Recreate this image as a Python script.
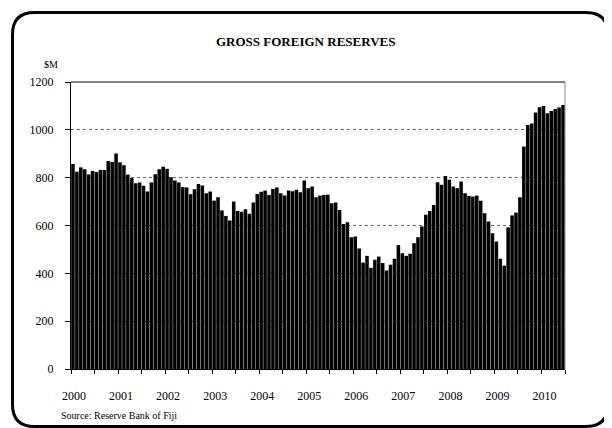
"""
Gross foreign reserves, monthly bars Jan 2000 - Jun 2010 ($M)
"""
import numpy as np, pandas as pd, plotly.graph_objects as go

# ── data ────────────────────────────────────────────────
MONTHS = pd.date_range("2000-01-01", periods=126, freq="MS")
RESERVES = [
    857, 825, 843, 835, 813, 828, 824, 832, 832, 870, 866, 901,   # 2000
    864, 852, 813, 798, 777, 780, 766, 742, 780, 814, 835, 846,   # 2001
    837, 802, 788, 780, 761, 759, 731, 752, 773, 767, 735, 742,   # 2002
    704, 718, 663, 640, 621, 700, 661, 658, 668, 649, 696, 732,   # 2003
    741, 746, 728, 753, 759, 735, 725, 746, 743, 749, 739, 788,   # 2004
    756, 763, 718, 725, 728, 729, 693, 696, 665, 606, 614, 551,   # 2005
    554, 504, 445, 473, 423, 457, 470, 443, 412, 436, 461, 518,   # 2006
    484, 473, 482, 526, 551, 596, 645, 661, 686, 781, 770, 807,   # 2007
    791, 763, 756, 784, 735, 724, 721, 725, 704, 651, 617, 568,   # 2008
    533, 461, 432, 592, 642, 654, 718, 930, 1020, 1027, 1072, 1094,  # 2009
    1100, 1069, 1079, 1087, 1093, 1104,                           # 2010
]
YEARS = [str(y) for y in range(2000, 2011)]
Y_TICKS = [0, 200, 400, 600, 800, 1000, 1200]

# ── geometry ────────────────────────────────────────────
# positions below are read off the reference picture; the page body
# adds an 8px margin, so everything is shifted back by OFF
OFF = 8
W, H = 612 - OFF, 428 - OFF
L, R, T, B = 71 - OFF, 565 - OFF, 82 - OFF, 369 - OFF
SERIF = "Liberation Serif"

def px(x):  # reference pixel x -> paper
    return (x - OFF - L) / (R - L)

def py(y):  # reference pixel y -> paper
    return (B - (y - OFF)) / (B - T)

idx = np.arange(len(RESERVES))          # month slots on a linear axis
half_years = np.arange(0, len(RESERVES) + 1, 6) - 0.5
tick_text = [YEARS[i // 2] if i % 2 == 0 else "" for i in range(len(half_years))]

fig = go.Figure(go.Bar(
    x=idx, y=RESERVES,
    customdata=MONTHS.strftime("%b %Y"),
    marker=dict(color="#000000", line=dict(width=0)),
    hovertemplate="%{customdata}: %{y}<extra></extra>",
))

fig.update_xaxes(
    range=[-0.5, len(RESERVES) - 0.5],
    tickvals=half_years, ticktext=tick_text,
    ticks="outside", ticklen=4, tickcolor="#000",
    ticklabelshift=3, ticklabelstandoff=12,
    showline=True, linecolor="#000", linewidth=1,
    showgrid=False, zeroline=False,
    tickfont=dict(family=SERIF, size=12, color="#000"),
)
fig.update_yaxes(
    range=[0, 1200], tickvals=Y_TICKS,
    ticks="outside", ticklen=5, tickcolor="#000", ticklabelstandoff=9,
    showline=True, linecolor="#000", linewidth=1,
    showgrid=True, gridcolor="#666", griddash="dot", gridwidth=1,
    zeroline=False,
    tickfont=dict(family=SERIF, size=12, color="#000"),
)

# plot frame: top line black, right line grey
fig.add_shape(type="line", xref="paper", yref="paper", x0=0, x1=1, y0=1, y1=1,
              line=dict(color="#000", width=1))
fig.add_shape(type="line", xref="paper", yref="paper", x0=1, x1=1, y0=0, y1=1,
              line=dict(color="#888", width=1))

# outer rounded border
x0, x1, yt, yb, r = px(12.5), px(608), py(12.5), py(426.5), 22
rx, ry = r / (R - L), r / (B - T)
path = (f"M {x0+rx},{yt} L {x1-rx},{yt} Q {x1},{yt} {x1},{yt-ry} "
        f"L {x1},{yb+ry} Q {x1},{yb} {x1-rx},{yb} L {x0+rx},{yb} "
        f"Q {x0},{yb} {x0},{yb+ry} L {x0},{yt-ry} Q {x0},{yt} {x0+rx},{yt} Z")
fig.add_shape(type="path", path=path, xref="paper", yref="paper",
              line=dict(color="#000", width=3), layer="above")

# ── texts ───────────────────────────────────────────────
fig.add_annotation(text="<b>GROSS FOREIGN RESERVES</b>", xref="paper", yref="paper",
                   x=px(305), y=py(41), xanchor="center", yanchor="middle",
                   showarrow=False, font=dict(family=SERIF, size=13, color="#000"))
fig.add_annotation(text="$M", xref="paper", yref="paper",
                   x=px(51), y=py(64), xanchor="center", yanchor="middle",
                   showarrow=False, font=dict(family=SERIF, size=10, color="#000"))
fig.add_annotation(text="Source: Reserve Bank of Fiji", xref="paper", yref="paper",
                   x=px(59), y=py(415), xanchor="left", yanchor="middle",
                   showarrow=False, font=dict(family=SERIF, size=10, color="#000"))

fig.update_layout(
    width=W, height=H,
    margin=dict(l=L, r=W - R, t=T, b=H - B),
    paper_bgcolor="#fff", plot_bgcolor="#fff",
    bargap=0.1, showlegend=False,
)

fig.write_html("out.html")
